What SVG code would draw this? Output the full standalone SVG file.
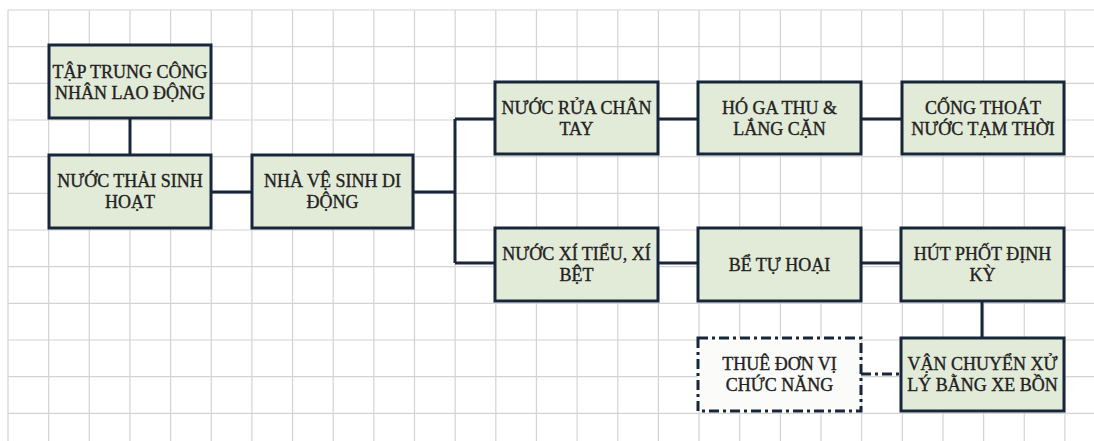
<svg xmlns="http://www.w3.org/2000/svg" width="1094" height="441" viewBox="0 0 1094 441">
<style>
.grid line{stroke:#d3d3d3;stroke-width:1.2}
.box{fill:#e2ead8;stroke:#17263a;stroke-width:3}
.dbox{fill:#fbfbf9;stroke:#17263a;stroke-width:3;stroke-dasharray:10 4 3 4}
.t{font-family:'Liberation Serif','DejaVu Serif',serif;font-size:18px;fill:#222222;stroke:#222222;stroke-width:0.35;text-anchor:middle}
.c{fill:none;stroke:#17263a;stroke-width:3}
.cd{fill:none;stroke:#17263a;stroke-width:3;stroke-dasharray:10 4 3 4}
</style>
<rect width="1094" height="441" fill="#ffffff"/>
<g class="grid">
<line x1="8" y1="10" x2="8" y2="441"/><line x1="48.65" y1="10" x2="48.65" y2="441"/><line x1="89.3" y1="10" x2="89.3" y2="441"/><line x1="129.95" y1="10" x2="129.95" y2="441"/><line x1="170.6" y1="10" x2="170.6" y2="441"/><line x1="211.25" y1="10" x2="211.25" y2="441"/><line x1="251.9" y1="10" x2="251.9" y2="441"/><line x1="292.55" y1="10" x2="292.55" y2="441"/><line x1="333.2" y1="10" x2="333.2" y2="441"/><line x1="373.85" y1="10" x2="373.85" y2="441"/><line x1="414.5" y1="10" x2="414.5" y2="441"/><line x1="455.15" y1="10" x2="455.15" y2="441"/><line x1="495.8" y1="10" x2="495.8" y2="441"/><line x1="536.45" y1="10" x2="536.45" y2="441"/><line x1="577.1" y1="10" x2="577.1" y2="441"/><line x1="617.75" y1="10" x2="617.75" y2="441"/><line x1="658.4" y1="10" x2="658.4" y2="441"/><line x1="699.05" y1="10" x2="699.05" y2="441"/><line x1="739.7" y1="10" x2="739.7" y2="441"/><line x1="780.35" y1="10" x2="780.35" y2="441"/><line x1="821" y1="10" x2="821" y2="441"/><line x1="861.65" y1="10" x2="861.65" y2="441"/><line x1="902.3" y1="10" x2="902.3" y2="441"/><line x1="942.95" y1="10" x2="942.95" y2="441"/><line x1="983.6" y1="10" x2="983.6" y2="441"/><line x1="1024.25" y1="10" x2="1024.25" y2="441"/><line x1="1064.9" y1="10" x2="1064.9" y2="441"/>
<line x1="8" y1="10" x2="1094" y2="10"/><line x1="8" y1="46.67" x2="1094" y2="46.67"/><line x1="8" y1="83.33" x2="1094" y2="83.33"/><line x1="8" y1="120" x2="1094" y2="120"/><line x1="8" y1="156.67" x2="1094" y2="156.67"/><line x1="8" y1="193.33" x2="1094" y2="193.33"/><line x1="8" y1="230" x2="1094" y2="230"/><line x1="8" y1="266.67" x2="1094" y2="266.67"/><line x1="8" y1="303.33" x2="1094" y2="303.33"/><line x1="8" y1="340" x2="1094" y2="340"/><line x1="8" y1="376.67" x2="1094" y2="376.67"/><line x1="8" y1="413.33" x2="1094" y2="413.33"/>
</g>
<g id="connectors">
<path class="c" d="M130 118V155"/>
<path class="c" d="M211 192H252"/>
<path class="c" d="M413 192H455"/>
<path class="c" d="M455 119V263"/>
<path class="c" d="M455 119H495"/>
<path class="c" d="M455 263H495"/>
<path class="c" d="M658 119H698"/>
<path class="c" d="M861 119H902"/>
<path class="c" d="M658 263H698"/>
<path class="c" d="M861 263H901"/>
<path class="c" d="M982 301V338"/>
<path class="cd" d="M861 374H901"/>
</g>
<g id="n1"><rect class="box" x="49" y="45" width="162" height="73"/><text class="t" x="130" y="78">TẬP TRUNG CÔNG</text><text class="t" x="130" y="99">NHÂN LAO ĐỘNG</text></g>
<g id="n2"><rect class="box" x="49" y="155" width="162" height="73"/><text class="t" x="130" y="187">NƯỚC THẢI SINH</text><text class="t" x="130" y="208">HOẠT</text></g>
<g id="n3"><rect class="box" x="252" y="155" width="161" height="73"/><text class="t" x="332.5" y="187">NHÀ VỆ SINH DI</text><text class="t" x="332.5" y="208">ĐỘNG</text></g>
<g id="n4"><rect class="box" x="495" y="82" width="163" height="72"/><text class="t" x="576.5" y="114">NƯỚC RỬA CHÂN</text><text class="t" x="576.5" y="135">TAY</text></g>
<g id="n5"><rect class="box" x="698" y="82" width="163" height="72"/><text class="t" x="779.5" y="114">HÓ GA THU &amp;</text><text class="t" x="779.5" y="135">LẮNG CẶN</text></g>
<g id="n6"><rect class="box" x="902" y="82" width="162" height="72"/><text class="t" x="983" y="114">CỐNG THOÁT</text><text class="t" x="983" y="135">NƯỚC TẠM THỜI</text></g>
<g id="n7"><rect class="box" x="495" y="228" width="163" height="73"/><text class="t" x="576.5" y="260">NƯỚC XÍ TIỂU, XÍ</text><text class="t" x="576.5" y="281">BỆT</text></g>
<g id="n8"><rect class="box" x="698" y="228" width="163" height="73"/><text class="t" x="779.5" y="271">BỂ TỰ HOẠI</text></g>
<g id="n9"><rect class="box" x="901" y="228" width="163" height="73"/><text class="t" x="982.5" y="260">HÚT PHỐT ĐỊNH</text><text class="t" x="982.5" y="281">KỲ</text></g>
<g id="n10"><rect class="box" x="901" y="338" width="163" height="73"/><text class="t" x="982.5" y="370">VẬN CHUYỂN XỬ</text><text class="t" x="982.5" y="391">LÝ BẰNG XE BỒN</text></g>
<g id="n11"><rect class="dbox" x="698" y="338" width="163" height="73"/><text class="t" x="779.5" y="370">THUÊ ĐƠN VỊ</text><text class="t" x="779.5" y="391">CHỨC NĂNG</text></g>
</svg>
